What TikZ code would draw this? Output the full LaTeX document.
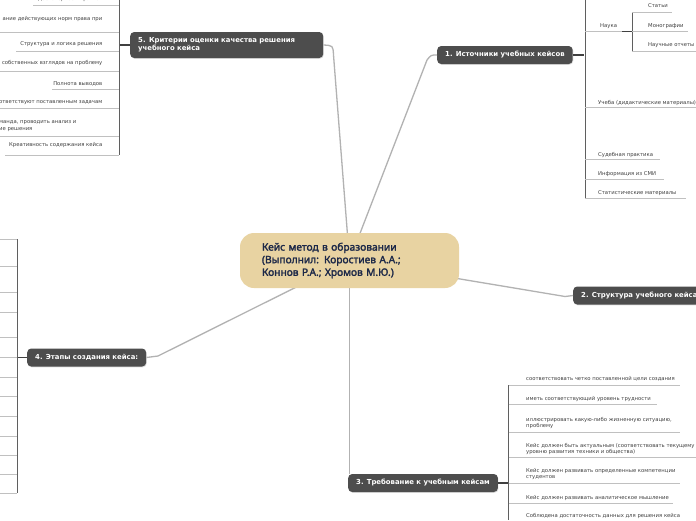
\documentclass[tikz,border=0pt]{standalone}
\usepackage{fontspec}
\setmainfont{DejaVu Sans}
\newfontfamily\centerfont{Noto Sans}[AutoFakeBold=2.2]
\usetikzlibrary{shadows, calc}

\definecolor{topicgray}{RGB}{77,77,77}
\definecolor{centertan}{RGB}{232,211,162}
\definecolor{centerink}{RGB}{28,40,72}
\definecolor{stemgray}{RGB}{95,95,95}
\definecolor{rulegray}{RGB}{192,192,192}
\definecolor{linkgray}{RGB}{178,178,178}

\tikzset{
	central/.style={rounded corners=14pt, fill=centertan, text=centerink,
		font=\centerfont\bfseries\fontsize{10.2}{12.6}\selectfont, align=left,
		text width=175pt, inner xsep=22pt, minimum height=55pt},
	topic/.style={rounded corners=4pt, fill=topicgray, text=white,
		font=\bfseries\fontsize{6.9}{8}\selectfont, inner xsep=8pt, minimum height=18pt,
		drop shadow={opacity=0.25, shadow xshift=0.6pt, shadow yshift=-0.8pt}},
	leaf/.style={font=\fontsize{5.3}{6.2}\selectfont, text=black!75, inner sep=0pt, align=left},
	link/.style={draw=linkgray, line width=1.3pt},
	stem/.style={draw=stemgray, line width=0.7pt},
	under/.style={draw=rulegray, line width=0.7pt},
	tie/.style={draw=black!75, line width=1.4pt}
}

\begin{document}
\begin{tikzpicture}[x=1pt, y=-1pt]
	\useasboundingbox (0,0) rectangle (696,520);
	\fill[white] (0,0) rectangle (696,520);
	\clip (0,0) rectangle (696,520);

	\coordinate (cc) at (349.5,260.5);

	% main topics
	\node[topic, anchor=west] (t1) at (437,55) {1. Источники учебных кейсов};
	\node[topic, anchor=west] (t2) at (573,295.5) {2. Структура учебного кейса};
	\node[topic, anchor=west] (t3) at (348,483) {3. Требование к учебным кейсам};
	\node[topic, anchor=west] (t4) at (27,357.5) {4. Этапы создания кейса:};
	\node[topic, anchor=west, text width=177pt, align=left, minimum height=26pt] (t5) at (130,45)
		{5. Критерии оценки качества решения\\учебного кейса};

	\draw[link] (cc) -- (427,60) .. controls (431,55) .. (t1.west);
	\draw[link] (cc) -- (565,296.5) .. controls (569,295.5) .. (t2.west);
	\draw[link] (cc) -- (cc |- t3.north);
	\draw[link] (cc) -- (158,356) .. controls (152,357.5) .. (t4.east);
	\draw[link] (cc) -- (333.5,55) .. controls (333,45.5) .. (t5.east);

	\node[central] (c) at (cc) {Кейс метод в образовании\\(Выполнил: Коростиев А.А.;\\Коннов Р.А.; Хромов М.Ю.)};

	% 1. sources
	\draw[tie] (t1.east) -- ++(11,0);
	\draw[stem] (585,0) -- (585,198);
	\node[leaf, anchor=west] (sci) at (600,26) {Наука};
	\draw[under] (585,31.5) -- (622,31.5);
	\draw[tie, line width=1pt] (622,31.5) -- (632,31.5);
	\draw[stem] (632,12) -- (632,51);
	\foreach \y/\u/\e/\t [count=\i] in {6/12/672/Статьи, 26/31.5/688/Монографии, 45/51/696/Научные отчеты}{
		\node[leaf, anchor=west] (sci\i) at (648,\y) {\t};
		\draw[under] (632,\u) -- (\e,\u);
	}
	\foreach \y/\u/\e/\t [count=\i] in {103/107.5/696/{Учеба (дидактические материалы)},
		155/159.5/660/Судебная практика, 174/179/664/Информация из СМИ,
		193/198/686/Статистические материалы}{
		\node[leaf, anchor=west] (src\i) at (598,\y) {\t};
		\draw[under] (585,\u) -- (\e,\u);
	}

	% 3. requirements
	\draw[tie] (t3.east) -- ++(10.5,0);
	\draw[stem] (508.5,385) -- (508.5,520);
	\foreach \y/\u/\e/\t [count=\i] in {379/385/680/соответствовать четко поставленной цели создания,
		399/404/657/иметь соответствующий уровень трудности,
		423/432/680/{иллюстрировать какую-либо жизненную ситуацию,\\проблему},
		449/457.5/696/{Кейс должен быть актуальным (соответствовать текущему\\уровню развития техники и общества)},
		474/483.5/680/{Кейс должен развивать определенные компетенции\\студентов},
		498/503/673/Кейс должен развивать аналитическое мышление,
		516/521/690/Соблюдена достаточность данных для решения кейса}{
		\node[leaf, anchor=west] (req\i) at (526,\y) {\t};
		\draw[under] (508.5,\u) -- (\e,\u);
	}

	% 4. stages
	\draw[tie] (t4.west) -- ++(-10,0);
	\draw[stem] (17,239) -- (17,493);
	\foreach \y in {239,266,292,312,337,357,377,396,416,436,455,474,493}
		\draw[under] (0,\y) -- (17,\y);

	% 5. criteria
	\draw[tie] (t5.west) -- ++(-11,0);
	\draw[stem] (119,0) -- (119,154.5);
	\foreach \y/\u/\s/\t [count=\i] in {-0.5/5/33/Достоверность фактов,
		19/32/0/ание действующих норм права при,
		44.5/51/16/Структура и логика решения,
		63/71/0/я собственных взглядов на проблему,
		84/89.5/52/Полнота выводов,
		103/108.5/0/оответствуют поставленным задачам,
		145.5/155/5/Креативность содержания кейса}{
		\node[leaf, anchor=east] (crit\i) at (102.5,\y) {\t};
		\draw[under] (\s,\u) -- (119,\u);
	}
	\node[leaf, anchor=west] (team) at (-1,126) {манда, проводить анализ и\\ие решения};
	\draw[under] (0,136) -- (119,136);
\end{tikzpicture}
\end{document}
